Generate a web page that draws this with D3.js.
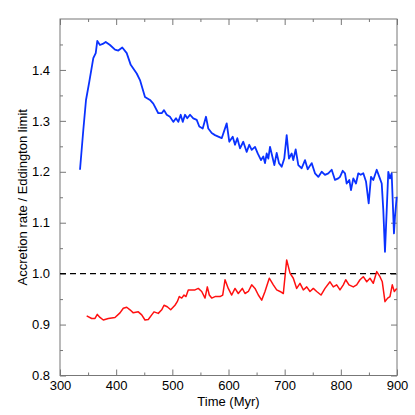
<!DOCTYPE html>
<html><head><meta charset="utf-8">
<script src="https://cdn.jsdelivr.net/npm/d3@7"></script>
<style>html,body{margin:0;padding:0;background:#fff;}svg{display:block;}</style>
</head><body>
<script>
// ---- data ----
const blueTime = [335.6,341.5,346.3,352.2,359.3,363.6,366.4,371.2,376.0,381.4,389.0,397.9,403.8,410.9,418.8,425.9,436.6,442.4,451.3,460.2,466.1,475.0,481.1,485.2,490.0,495.8,501.7,506.5,510.6,514.9,518.5,522.6,526.6,531.5,537.3,543.4,548.0,554.1,559.9,564.0,570.1,575.9,581.8,587.9,596.8,601.4,607.5,611.6,615.7,620.5,626.3,632.4,637.0,641.3,647.2,652.0,657.9,662.0,665.0,668.0,670.9,673.9,678.0,681.6,685.8,689.9,694.7,699.3,703.6,707.7,712.5,715.3,719.6,724.3,730.3,736.2,741.0,748.1,754.0,759.9,765.9,771.8,777.7,783.7,789.6,795.5,798.5,803.3,807.4,810.4,815.1,818.1,822.2,827.0,831.1,835.4,840.0,844.8,849.6,853.7,857.8,863.9,868.5,872.8,875.6,878.6,881.7,884.5,887.5,890.5,894.6,896.4,899.5];
const blueValue = [1.204,1.282,1.341,1.377,1.423,1.433,1.457,1.449,1.451,1.455,1.449,1.440,1.438,1.444,1.433,1.410,1.393,1.380,1.347,1.341,1.334,1.315,1.315,1.321,1.312,1.308,1.298,1.305,1.298,1.312,1.298,1.312,1.305,1.312,1.305,1.302,1.289,1.285,1.308,1.285,1.276,1.272,1.269,1.266,1.295,1.259,1.269,1.253,1.266,1.246,1.259,1.239,1.253,1.243,1.249,1.236,1.223,1.230,1.217,1.236,1.226,1.249,1.230,1.213,1.237,1.217,1.210,1.226,1.272,1.226,1.236,1.223,1.244,1.213,1.207,1.223,1.205,1.217,1.197,1.190,1.200,1.194,1.197,1.204,1.184,1.187,1.190,1.202,1.197,1.177,1.184,1.164,1.187,1.177,1.197,1.194,1.197,1.181,1.138,1.190,1.184,1.204,1.190,1.177,1.125,1.043,1.125,1.200,1.187,1.197,1.079,1.112,1.151];
const redTime = [347.5,356.4,362.3,366.4,371.2,377.1,386.0,397.9,406.8,412.7,418.8,424.6,430.5,439.4,445.5,451.3,457.2,463.3,467.4,475.0,481.1,485.2,491.0,497.1,504.7,508.8,512.4,516.7,520.8,524.3,528.4,540.4,546.2,552.3,558.2,562.3,565.8,570.1,576.0,584.9,589.7,593.8,599.6,605.7,611.6,617.4,624.6,629.4,635.3,641.3,647.2,653.1,659.1,665.0,672.6,679.8,685.8,691.7,697.6,703.6,709.5,715.4,721.4,727.3,733.2,739.3,745.1,751.0,757.0,764.7,771.8,780.7,786.6,792.6,798.5,804.4,808.7,814.5,822.2,828.2,834.1,840.0,846.1,851.9,857.8,863.9,869.7,873.8,878.6,883.4,887.5,891.6,895.2,899.5];
const redValue = [0.917,0.912,0.912,0.920,0.914,0.909,0.912,0.914,0.923,0.932,0.934,0.929,0.923,0.925,0.919,0.909,0.910,0.919,0.925,0.922,0.929,0.938,0.935,0.929,0.938,0.945,0.955,0.952,0.958,0.955,0.968,0.968,0.971,0.965,0.952,0.974,0.958,0.952,0.955,0.955,0.958,0.988,0.971,0.958,0.971,0.961,0.971,0.961,0.965,0.978,0.971,0.958,0.948,0.965,0.991,0.978,0.968,0.965,0.961,1.027,1.001,0.991,0.971,0.981,0.968,0.974,0.965,0.971,0.965,0.958,0.971,0.984,0.974,0.978,0.968,0.978,0.988,0.978,0.974,0.978,0.988,0.994,0.984,0.991,0.981,1.004,0.994,0.984,0.945,0.952,0.955,0.978,0.965,0.971];
const xTicks = [300,400,500,600,700,800,900];
const xMinor = [350,450,550,650,750,850];
const yTicks = [0.8,0.9,1.0,1.1,1.2,1.3,1.4];
const yMinor = [0.85,0.95,1.05,1.15,1.25,1.35,1.45];
const eddington = 1.0;
const xLabel = "Time (Myr)";
const yLabel = "Accretion rate / Eddington limit";

// ---- chart ----
const W = 415, H = 415;
const L = 60, R = 397, T = 19, B = 375.5;
const svg = d3.select("body").append("svg").attr("width", W).attr("height", H);
const x = d3.scaleLinear().domain([300, 900]).range([L, R]);
const y = d3.scaleLinear().domain([0.8, 1.5]).range([B, T]);
const font = "'Liberation Sans', Arial, Helvetica, sans-serif";
const axisColor = "#777";

function styleAxis(g) {
  g.selectAll(".domain").remove();
  g.selectAll(".tick line").attr("stroke", axisColor);
  g.selectAll(".tick text").attr("font-family", font).attr("font-size", 13).attr("fill", "#000");
}
// bottom
svg.append("g").attr("transform", `translate(0,${B})`)
  .call(d3.axisBottom(x).tickValues(xTicks).tickFormat(d3.format("d")).tickSizeInner(-6).tickSizeOuter(0))
  .call(styleAxis).call(g => g.selectAll(".tick text").attr("y", 14.5).attr("dy", null));
svg.append("g").attr("transform", `translate(0,${B})`)
  .call(d3.axisBottom(x).tickValues(xMinor).tickFormat("").tickSizeInner(-3).tickSizeOuter(0)).call(styleAxis);
// top
svg.append("g").attr("transform", `translate(0,${T})`)
  .call(d3.axisTop(x).tickValues(xTicks).tickFormat("").tickSizeInner(-6).tickSizeOuter(0)).call(styleAxis);
svg.append("g").attr("transform", `translate(0,${T})`)
  .call(d3.axisTop(x).tickValues(xMinor).tickFormat("").tickSizeInner(-3).tickSizeOuter(0)).call(styleAxis);
// left
svg.append("g").attr("transform", `translate(${L},0)`)
  .call(d3.axisLeft(y).tickValues(yTicks).tickFormat(d3.format(".1f")).tickSizeInner(-6).tickSizeOuter(0))
  .call(styleAxis).call(g => g.selectAll(".tick text").attr("x", -10));
svg.append("g").attr("transform", `translate(${L},0)`)
  .call(d3.axisLeft(y).tickValues(yMinor).tickFormat("").tickSizeInner(-3).tickSizeOuter(0)).call(styleAxis);
// right
svg.append("g").attr("transform", `translate(${R},0)`)
  .call(d3.axisRight(y).tickValues(yTicks).tickFormat("").tickSizeInner(-6).tickSizeOuter(0)).call(styleAxis);
svg.append("g").attr("transform", `translate(${R},0)`)
  .call(d3.axisRight(y).tickValues(yMinor).tickFormat("").tickSizeInner(-3).tickSizeOuter(0)).call(styleAxis);

// frame
svg.append("rect").attr("x", L).attr("y", T).attr("width", R - L).attr("height", B - T)
  .attr("fill", "none").attr("stroke", axisColor).attr("stroke-width", 1);

// dashed Eddington line
svg.append("line").attr("x1", x(300)).attr("x2", x(900)).attr("y1", y(eddington)).attr("y2", y(eddington))
  .attr("stroke", "#000").attr("stroke-width", 1.3).attr("stroke-dasharray", "6,4");

const line = d3.line().x(d => x(d[0])).y(d => y(d[1]));
svg.append("path").datum(blueTime.map((t, i) => [t, blueValue[i]]))
  .attr("d", line).attr("fill", "none").attr("stroke", "#0a32ff").attr("stroke-width", 1.8).attr("stroke-linejoin", "round");
svg.append("path").datum(redTime.map((t, i) => [t, redValue[i]]))
  .attr("d", line).attr("fill", "none").attr("stroke", "#ff1010").attr("stroke-width", 1.5).attr("stroke-linejoin", "round");

// labels
svg.append("text").attr("x", (L + R) / 2).attr("y", 406).attr("text-anchor", "middle")
  .attr("font-family", font).attr("font-size", 13).text(xLabel);
svg.append("text").attr("transform", `translate(27,${(T + B) / 2}) rotate(-90)`).attr("text-anchor", "middle")
  .attr("font-family", font).attr("font-size", 13).text(yLabel);
</script>
</body></html>
